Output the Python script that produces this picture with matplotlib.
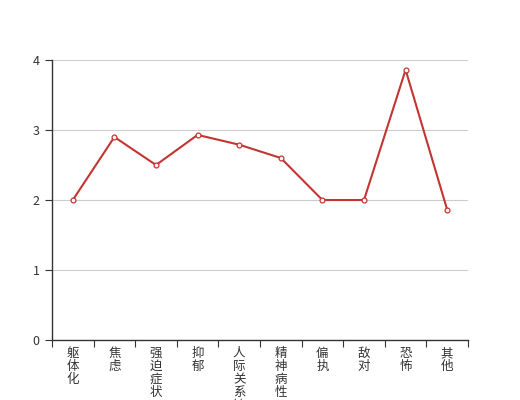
import numpy as np
import matplotlib
matplotlib.use('Agg')
import matplotlib.pyplot as plt

plt.rcParams['font.family'] = ['Noto Sans CJK SC', 'DejaVu Sans']

# 数据
categories = ['躯体化', '焦虑', '强迫症状', '抑郁', '人际关系敏感',
              '精神病性', '偏执', '敌对', '恐怖', '其他']
values = [2.0, 2.9, 2.5, 2.93, 2.79, 2.6, 2.0, 2.0, 3.86, 1.86]
y_ticks = [0, 1, 2, 3, 4]

fig = plt.figure(figsize=(5.2, 4), dpi=100)
ax = fig.add_axes([0.1, 0.15, 0.8, 0.7])

x = np.arange(len(categories))
ax.plot(x, values, color='#c23531', linewidth=1.5, zorder=3,
        marker='o', markersize=3.5, markerfacecolor='white',
        markeredgecolor='#c23531', markeredgewidth=0.9)

ax.set_xlim(-0.5, len(categories) - 0.5)
ax.set_ylim(0, 4)
ax.set_yticks(y_ticks)
ax.set_yticklabels([str(v) for v in y_ticks], fontsize=9, color='#333333')
ax.yaxis.grid(True, color='#cccccc', linewidth=0.8)
ax.set_axisbelow(True)

# 类目边界刻度
ax.set_xticks(np.arange(len(categories) + 1) - 0.5)
ax.set_xticklabels([])
ax.set_xticks(x, minor=True)
ax.set_xticklabels(['\n'.join(c) for c in categories], minor=True,
                   fontsize=9, color='#333333', va='top', linespacing=1.0)
ax.tick_params(axis='x', which='major', length=5, direction='out', color='#333333')
ax.tick_params(axis='x', which='minor', length=0, pad=5)
ax.tick_params(axis='y', length=5, direction='out', color='#333333', pad=4)

for s in ['top', 'right']:
    ax.spines[s].set_visible(False)
for s in ['left', 'bottom']:
    ax.spines[s].set_color('#333333')
    ax.spines[s].set_linewidth(1)

fig.savefig('out.png', dpi=100)
